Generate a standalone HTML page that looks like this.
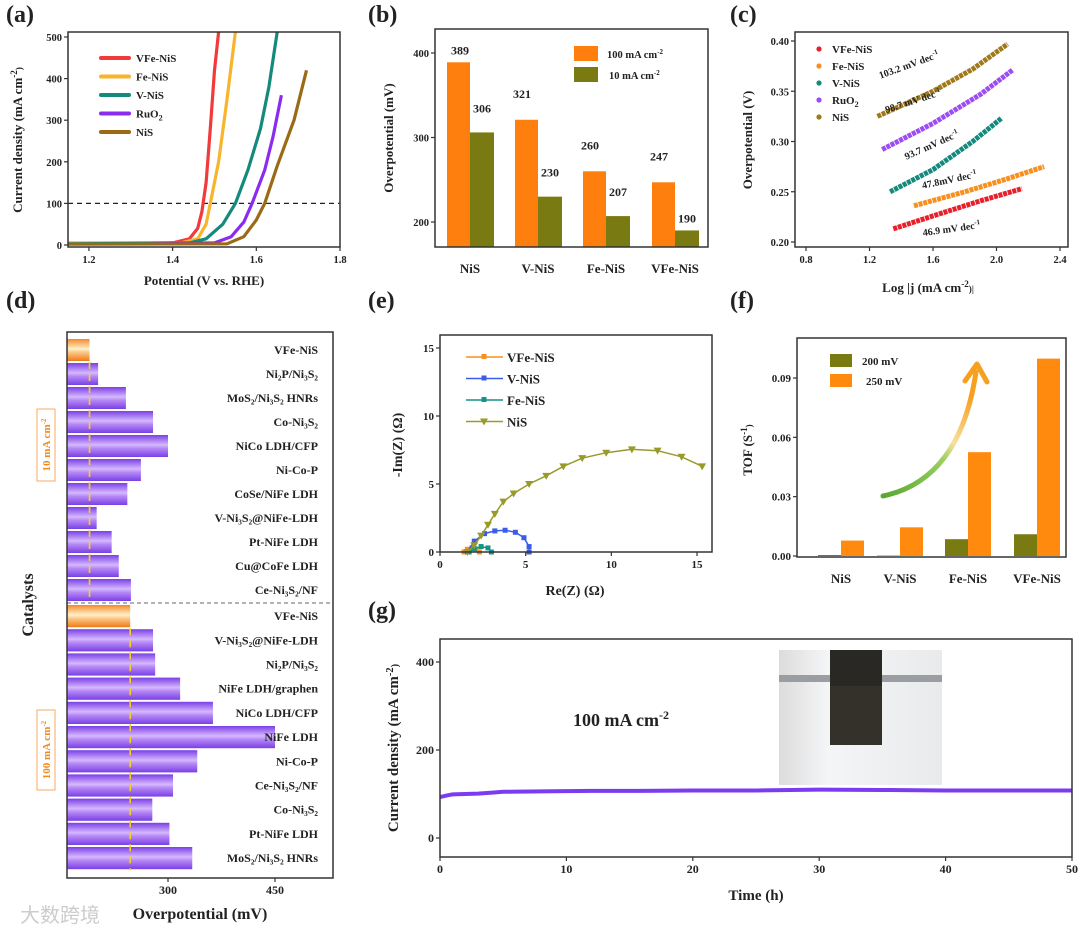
<!DOCTYPE html>
<html><head><meta charset="utf-8"><style>
html,body{margin:0;padding:0;background:#fff;}
svg{display:block;font-family:"Liberation Serif",serif;font-weight:bold;}
</style></head><body>
<svg id="fig" width="1080" height="932" viewBox="0 0 1080 932" xmlns="http://www.w3.org/2000/svg">
<defs>
<linearGradient id="gp" x1="0" y1="0" x2="0" y2="1">
<stop offset="0" stop-color="#7a3fe6"/><stop offset="0.45" stop-color="#d6b8ff"/><stop offset="0.6" stop-color="#b68af5"/><stop offset="1" stop-color="#7a3fe6"/></linearGradient>
<linearGradient id="go" x1="0" y1="0" x2="0" y2="1">
<stop offset="0" stop-color="#f28a2a"/><stop offset="0.45" stop-color="#fff0c8"/><stop offset="0.6" stop-color="#fbc98a"/><stop offset="1" stop-color="#f07a18"/></linearGradient>
<linearGradient id="garrow" x1="0" y1="1" x2="0.6" y2="0">
<stop offset="0" stop-color="#5aa832"/><stop offset="0.5" stop-color="#9bd060"/><stop offset="0.65" stop-color="#f7e0a0"/><stop offset="1" stop-color="#f7a020"/></linearGradient>
<linearGradient id="gphoto" x1="0" y1="0" x2="1" y2="0">
<stop offset="0" stop-color="#dcdcdc"/><stop offset="0.3" stop-color="#f4f5f6"/><stop offset="1" stop-color="#e8eaec"/></linearGradient>
</defs>
<g id="root"></g>
</svg>
<script>
// ---------- data ----------
// (a) LSV
const aSeriesNames = ["VFe-NiS","Fe-NiS","V-NiS","RuO2","NiS"];
const aVFe = [[1.15,3],[1.40,5],[1.44,15],[1.46,40],[1.47,80],[1.48,150],[1.49,280],[1.50,420],[1.51,512]];
const aFe = [[1.15,5],[1.42,5],[1.46,15],[1.48,50],[1.49,100],[1.51,200],[1.53,350],[1.55,512]];
const aV = [[1.15,3],[1.44,5],[1.48,15],[1.52,50],[1.55,100],[1.58,180],[1.61,280],[1.63,380],[1.65,512]];
const aRu = [[1.35,3],[1.50,5],[1.54,20],[1.57,55],[1.59,100],[1.62,180],[1.64,260],[1.66,360]];
const aNiS = [[1.15,2],[1.53,3],[1.57,20],[1.60,60],[1.62,100],[1.65,190],[1.69,300],[1.72,420]];
const aXTicks = [1.2,1.4,1.6,1.8];
const aYTicks = [0,100,200,300,400,500];
// (b)
const bCats = ["NiS","V-NiS","Fe-NiS","VFe-NiS"];
const b100 = [389,321,260,247];
const b10 = [306,230,207,190];
const bYTicks = [200,300,400];
// (c) Tafel
const cNames = ["VFe-NiS","Fe-NiS","V-NiS","RuO2","NiS"];
const cVFe = [[1.35,0.213],[1.6,0.226],[1.9,0.241],[2.16,0.253]];
const cFe = [[1.48,0.236],[1.8,0.250],[2.05,0.262],[2.3,0.275]];
const cV = [[1.33,0.250],[1.6,0.272],[1.85,0.300],[2.03,0.323]];
const cRu = [[1.28,0.292],[1.6,0.318],[1.9,0.347],[2.1,0.371]];
const cNiS = [[1.25,0.325],[1.6,0.350],[1.85,0.372],[2.07,0.397]];
const cSlopes = ["46.9 mV dec","47.8mV dec","93.7 mV dec","98.7 mV dec","103.2 mV dec"];
const cXTicks = [0.8,1.2,1.6,2.0,2.4];
const cYTicks = [0.20,0.25,0.30,0.35,0.40];
// (d)
const d10Names = ["VFe-NiS","Ni₂P/Ni₃S₂","MoS₂/Ni₃S₂ HNRs","Co-Ni₃S₂","NiCo LDH/CFP","Ni-Co-P","CoSe/NiFe LDH","V-Ni₃S₂@NiFe-LDH","Pt-NiFe LDH","Cu@CoFe LDH","Ce-Ni₃S₂/NF"];
const d10Vals = [190,202,241,279,300,262,243,200,221,231,248];
const d100Names = ["VFe-NiS","V-Ni₃S₂@NiFe-LDH","Ni₂P/Ni₃S₂","NiFe LDH/graphen","NiCo LDH/CFP","NiFe LDH","Ni-Co-P","Ce-Ni₃S₂/NF","Co-Ni₃S₂","Pt-NiFe LDH","MoS₂/Ni₃S₂ HNRs"];
const d100Vals = [247,279,282,317,363,450,341,307,278,302,334];
const dXTicks = [300,450];
// (e) Nyquist
const eVFe = [[1.4,0],[1.6,0.2],[1.85,0.3],[2.1,0.2],[2.3,0]];
const eV = [[1.6,0],[2.0,0.8],[2.6,1.35],[3.2,1.55],[3.8,1.6],[4.4,1.45],[4.9,1.05],[5.2,0.4],[5.2,0]];
const eFe = [[1.7,0],[2.0,0.25],[2.4,0.4],[2.8,0.3],[3.0,0]];
const eNiS = [[1.6,0],[2.0,0.5],[2.4,1.2],[2.8,2.0],[3.2,2.8],[3.7,3.7],[4.3,4.3],[5.2,5.0],[6.2,5.6],[7.2,6.3],[8.3,6.9],[9.7,7.3],[11.2,7.55],[12.7,7.45],[14.1,7.0],[15.3,6.3]];
const eXTicks = [0,5,10,15];
const eYTicks = [0,5,10,15];
// (f) TOF
const fCats = ["NiS","V-NiS","Fe-NiS","VFe-NiS"];
const f200 = [0.0005,0.0002,0.0085,0.011];
const f250 = [0.0078,0.0145,0.0525,0.0998];
const fYTicks = [0.00,0.03,0.06,0.09];
// (g) stability
const gTime = [0,0.3,0.6,1,2,3,4,5,8,12,16,20,25,30,35,40,45,50];
const gCurrent = [93,95,97,99,100,101,103,105,106,107,107,108,108,110,109,108,108,108];
const gXTicks = [0,10,20,30,40,50];
const gYTicks = [0,200,400];

// ---------- helpers ----------
const NS="http://www.w3.org/2000/svg";
const root=document.getElementById('root');
function mk(tag,attrs,parent){const e=document.createElementNS(NS,tag);for(const k in attrs)e.setAttribute(k,attrs[k]);(parent||root).appendChild(e);return e;}
function txt(s,x,y,size,anchor,parent,extra){const e=mk('text',Object.assign({x:x,y:y,'font-size':size,'text-anchor':anchor||'middle',fill:'#222'},extra||{}),parent);e.textContent=s;return e;}
function lin(d0,d1,r0,r1){return v=>r0+(v-d0)*(r1-r0)/(d1-d0);}
function box(x0,y0,x1,y1,name){const r=mk('rect',{x:x0,y:y0,width:x1-x0,height:y1-y0,fill:'none',stroke:'#333','stroke-width':1.5});


return r;}
function xticks(vals,sx,y,fmt,size){vals.forEach(v=>{mk('line',{x1:sx(v),x2:sx(v),y1:y,y2:y+4,stroke:'#333','stroke-width':1.2});const t=txt(fmt(v),sx(v),y+16,size||11);

});}
function yticks(vals,sy,x,fmt,size){vals.forEach(v=>{mk('line',{x1:x-4,x2:x,y1:sy(v),y2:sy(v),stroke:'#333','stroke-width':1.2});const t=txt(fmt(v),x-6,sy(v)+4,size||11,'end');

});}
function plabel(s,x,y){const t=txt(s,x,y,24,'start');

}
function ylabel(parts,x,y,size){const g=mk('g',{transform:`translate(${x},${y}) rotate(-90)`});const t=mk('text',{x:0,y:0,'font-size':size||13,'text-anchor':'middle',fill:'#222'},g);
parts.forEach(p=>{const s=mk('tspan',p[1]?{'font-size':(size||13)*0.7,dy:p[1]}:{},t);s.textContent=p[0];});

return t;}
function xlabel(parts,x,y,size){const t=mk('text',{x:x,y:y,'font-size':size||13,'text-anchor':'middle',fill:'#222'});
parts.forEach(p=>{const s=mk('tspan',p[1]?{'font-size':(size||13)*0.7,dy:p[1]}:{},t);s.textContent=p[0];});

return t;}
function path(pts,sx,sy,attrs){const d=pts.map((p,i)=>(i?'L':'M')+sx(p[0]).toFixed(1)+','+sy(p[1]).toFixed(1)).join('');return mk('path',Object.assign({d:d,fill:'none'},attrs));}

// ---------- (a) ----------
plabel('(a)',6,22);
{const sx=lin(1.15,1.8,68,340), sy=lin(0,500,245,37);
mk('line',{x1:68,x2:340,y1:sy(100),y2:sy(100),stroke:'#222','stroke-dasharray':'5,4','stroke-width':1.2});
const cols=['#f23a3a','#f8b42c','#138a7c','#8a2cf0','#9a6a14'];
[aVFe,aFe,aV,aRu,aNiS].forEach((s,i)=>{const p=path(s,sx,sy,{stroke:cols[i],'stroke-width':3.2,'stroke-linejoin':'round'});

});
mk('rect',{x:60,y:247.8,width:290,height:10,fill:'#fff'});
box(68,32,340,247,'plot-area-a');
xticks(aXTicks,sx,247,v=>v.toFixed(1),10.5);
yticks(aYTicks,sy,68,v=>String(v),10.5);
const labs=['VFe-NiS','Fe-NiS','V-NiS','RuO','NiS'];
labs.forEach((l,i)=>{const y=58+i*18.5;mk('line',{x1:101,x2:129,y1:y,y2:y,stroke:cols[i],'stroke-width':4,'stroke-linecap':'round'});const t=txt(l,136,y+4,11,'start');if(i==3){const s=mk('tspan',{'font-size':8,dy:3},t);s.textContent='2';}

});
xlabel([['Potential (V vs. RHE)']],204,285,13);
ylabel([['Current density (mA cm'],['-2',-5],[')',5]],22,140,13);}

// ---------- (b) ----------
plabel('(b)',368,22);
{const sy=lin(200,400,222,53), base=247;const cx=[470,538,606,675];
bCats.forEach((c,i)=>{const r1=mk('rect',{x:cx[i]-23,y:sy(b100[i]),width:23,height:base-sy(b100[i]),fill:'#ff7f0e'});


const r2=mk('rect',{x:cx[i],y:sy(b10[i]),width:24,height:base-sy(b10[i]),fill:'#7a7a12'});


txt(String(b100[i]),cx[i]-12+(i==0?2:-4),sy(b100[i])-(i==0?8:22),12);
txt(String(b10[i]),cx[i]+12,sy(b10[i])-(i==3?8:20),12);
const t=txt(c,cx[i],273,13);

});
box(435,29,708,247,'plot-area-b');
yticks(bYTicks,sy,435,v=>String(v),10.5);
mk('rect',{x:574,y:46,width:24,height:15,fill:'#ff7f0e'});mk('rect',{x:574,y:67,width:24,height:15,fill:'#7a7a12'});
let t=txt('100 mA cm',607,58,10.5,'start');let s=mk('tspan',{'font-size':7,dy:-4},t);s.textContent='-2';

t=txt('10 mA cm',609,79,10.5,'start');s=mk('tspan',{'font-size':7,dy:-4},t);s.textContent='-2';

ylabel([['Overpotential (mV)']],393,138,13);}

// ---------- (c) ----------
plabel('(c)',730,22);
{const sx=lin(0.8,2.4,806,1060), sy=lin(0.2,0.4,242,41);
const cols=['#e8202a','#f7901e','#138a7c','#9c4cf2','#a07a1a'];
[cVFe,cFe,cV,cRu,cNiS].forEach((s,i)=>{const p=path(s,sx,sy,{stroke:cols[i],'stroke-width':5,'stroke-dasharray':'4,0.8'});

});
box(795,32,1068,247,'plot-area-c');
xticks(cXTicks,sx,247,v=>v.toFixed(1),10.5);
yticks(cYTicks,sy,795,v=>v.toFixed(2),10.5);
const labs=['VFe-NiS','Fe-NiS','V-NiS','RuO','NiS'];
labs.forEach((l,i)=>{const y=49+i*17;mk('circle',{cx:819,cy:y,r:2.6,fill:cols[i]});const t=txt(l,832,y+4,11,'start');if(i==3){const s=mk('tspan',{'font-size':8,dy:3},t);s.textContent='2';}
});
const lp=[[952,232,-8],[950,183,-12],[933,148,-24],[914,104,-18],[910,68,-20]];
cSlopes.forEach((s,i)=>{const g=mk('g',{transform:`translate(${lp[i][0]},${lp[i][1]}) rotate(${lp[i][2]})`});const t=mk('text',{x:0,y:0,'font-size':10,'text-anchor':'middle',fill:'#222'},g);t.textContent=s;const sp=mk('tspan',{'font-size':7,dy:-4},t);sp.textContent='-1';
});
xlabel([['Log |j (mA cm'],['-2',-5],[')|',5]],928,292,13);
ylabel([['Overpotential (V)']],752,140,13);}

// ---------- (d) ----------
plabel('(d)',6,308);
{const sx=lin(300,450,168,275);const x0=67;
function rows(names,vals,top,h,refVal){names.forEach((n,i)=>{const y=top+i*h;const r=mk('rect',{x:x0,y:y+1,width:sx(vals[i])-x0,height:h-2,fill:i==0?'url(#go)':'url(#gp)'});


const t=mk('text',{x:318,y:y+h/2+4,'font-size':12,'text-anchor':'end',fill:'#222'});t.textContent=n;
});
mk('line',{x1:sx(refVal),x2:sx(refVal),y1:top+h,y2:top+names.length*h,stroke:'#f5d020','stroke-width':1.6,'stroke-dasharray':'7,5'});}
rows(d10Names,d10Vals,338,24,d10Vals[0]);
rows(d100Names,d100Vals,604,24.2,d100Vals[0]);
mk('line',{x1:x0,x2:333,y1:603,y2:603,stroke:'#667','stroke-dasharray':'4,3','stroke-width':1});
box(67,332,333,878,'plot-area-d');
xticks(dXTicks,sx,878,v=>String(v),12);
ylabel([['Catalysts']],33,605,16);
[[46,445,'10 mA cm'],[46,750,'100 mA cm']].forEach(a=>{mk('rect',{x:a[0]-9,y:a[1]-(a[2].length*4+4),width:18,height:a[2].length*8+8,fill:'none',stroke:'#f9a860','stroke-width':1});
const g=mk('g',{transform:`translate(${a[0]+4},${a[1]}) rotate(-90)`});const t=mk('text',{x:0,y:0,'font-size':11,'text-anchor':'middle',fill:'#f28a1e'},g);t.textContent=a[2];const sp=mk('tspan',{'font-size':7,dy:-4},t);sp.textContent='-2';
});
xlabel([['Overpotential (mV)']],200,919,16);
const w=txt('大数跨境',20,922,20,'start',null,{fill:'#ccc','font-family':'"Liberation Sans","Noto Sans CJK SC",sans-serif','font-weight':'normal'});
}

// ---------- (e) ----------
plabel('(e)',368,308);
{const sx=lin(0,15,440,697), sy=lin(0,15,552,348);
const cols=['#f7901e','#3a5ce8','#14938a','#9a9a2a'];
[eVFe,eV,eFe,eNiS].forEach((s,i)=>{const p=path(s,sx,sy,{stroke:cols[i],'stroke-width':1.5});

s.forEach(q=>{if(i==3){const x=sx(q[0]),y=sy(q[1]);mk('path',{d:`M${x-4},${y-3}L${x+4},${y-3}L${x},${y+4}Z`,fill:cols[i]});}else mk('rect',{x:sx(q[0])-2.5,y:sy(q[1])-2.5,width:5,height:5,fill:cols[i]});});});
box(440,335,712,552,'plot-area-e');
xticks(eXTicks,sx,552,v=>String(v),11);
yticks(eYTicks,sy,440,v=>String(v),11);
['VFe-NiS','V-NiS','Fe-NiS','NiS'].forEach((l,i)=>{const y=357+i*21.5;mk('line',{x1:466,x2:503,y1:y,y2:y,stroke:cols[i],'stroke-width':1.5});
if(i==3)mk('path',{d:`M480,${y-3}L488,${y-3}L484,${y+4}Z`,fill:cols[i]});else mk('rect',{x:481.5,y:y-3,width:5,height:5,fill:cols[i]});
const t=txt(l,507,y+5,13,'start');});
xlabel([['Re(Z) (Ω)']],575,595,14);
ylabel([['-Im(Z) (Ω)']],402,445,14);}

// ---------- (f) ----------
plabel('(f)',730,308);
{const sy=lin(0,0.09,556,378);const cx=[841,900,968,1037];
fCats.forEach((c,i)=>{const r1=mk('rect',{x:cx[i]-23,y:sy(f200[i]),width:23,height:556-sy(f200[i]),fill:'#7a7a12'});

const r2=mk('rect',{x:cx[i],y:sy(f250[i]),width:23,height:556-sy(f250[i]),fill:'#ff8a0e'});

const t=txt(c,cx[i],583,13);});
box(797,338,1066,557,'plot-area-f');
yticks(fYTicks,sy,797,v=>v.toFixed(2),11);
mk('rect',{x:830,y:354,width:22,height:13,fill:'#7a7a12'});mk('rect',{x:830,y:374,width:22,height:13,fill:'#ff8a0e'});
let t=txt('200 mV',862,365,11,'start');
t=txt('250 mV',866,385,11,'start');
const a=mk('path',{d:'M883,496 Q960,480 976,372',fill:'none',stroke:'url(#garrow)','stroke-width':5,'stroke-linecap':'round'});

mk('path',{d:'M965,381 L977,364 L987,382',fill:'none',stroke:'#f7a020','stroke-width':5,'stroke-linecap':'round','stroke-linejoin':'round'});
ylabel([['TOF (S'],['-1',-5],[')',5]],752,450,13);}

// ---------- (g) ----------
plabel('(g)',368,618);
{const sx=lin(0,50,440,1072), sy=lin(0,400,838,662);
const ph=mk('g',{});
mk('rect',{x:779,y:650,width:163,height:135,fill:'url(#gphoto)'},ph);
mk('rect',{x:779,y:675,width:163,height:7,fill:'#9a9ea2'},ph);
mk('rect',{x:830,y:650,width:52,height:95,fill:'#2a2824'},ph);
mk('rect',{x:830,y:686,width:52,height:59,fill:'#34312b'},ph);
const ln=path(gTime.map((t,i)=>[t,gCurrent[i]]),sx,sy,{stroke:'#7b3cf0','stroke-width':4});

box(440,639,1072,857,'plot-area-g');
xticks(gXTicks,sx,857,v=>String(v),12);
yticks(gYTicks,sy,440,v=>String(v),12);
let t=txt('100 mA cm',573,726,18,'start');let s=mk('tspan',{'font-size':12,dy:-7},t);s.textContent='-2';

xlabel([['Time (h)']],756,900,15);
ylabel([['Current density (mA cm'],['-2',-5],[')',5]],398,748,15);}
</script>
</body></html>
